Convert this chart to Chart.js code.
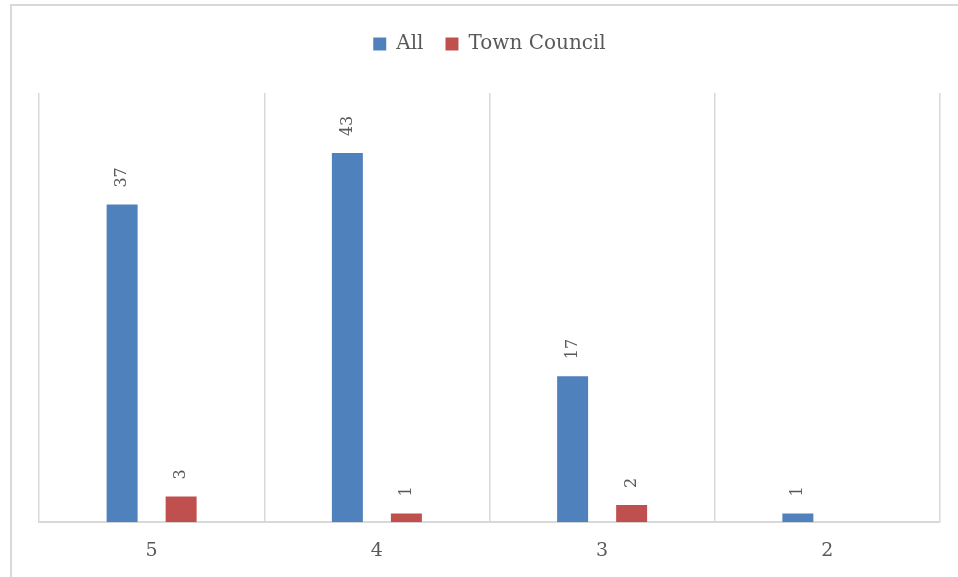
<!DOCTYPE html>
<html>
<head>
<meta charset="utf-8">
<script src="https://cdn.jsdelivr.net/npm/chart.js@4/dist/chart.umd.min.js"></script>
<style>
  html, body { margin: 0; padding: 0; background: #ffffff; }
  #wrap { position: relative; width: 958px; height: 577px; overflow: hidden; }
  #frame { position: absolute; left: 10px; top: 4px; width: 980px; height: 620px; border: 2px solid #d9d9d9; box-sizing: border-box; }
  #chart { position: absolute; left: 0; top: 0; }
</style>
</head>
<body>
<div id="wrap">
  <div id="frame"></div>
  <canvas id="chart" width="958" height="577"></canvas>
</div>
<script>
const categories = ['5', '4', '3', '2'];
const allValues = [37, 43, 17, 1];
const councilValues = [3, 1, 2, null];
const seriesNames = ['All', 'Town Council'];

const textColor = '#595959';
const fontFamily = '"DejaVu Serif", "Liberation Serif", serif';

// draws the rotated value labels above each bar
const barLabels = {
    id: 'barLabels',
    afterDatasetsDraw(chart) {
        const ctx = chart.ctx;
        chart.data.datasets.forEach((ds, i) => {
            const meta = chart.getDatasetMeta(i);
            meta.data.forEach((bar, j) => {
                const v = ds.data[j];
                if (v === null || v === undefined) return;
                ctx.save();
                ctx.translate(bar.x, bar.y - 17);
                ctx.rotate(-Math.PI / 2);
                ctx.font = '16px ' + fontFamily;
                ctx.fillStyle = textColor;
                ctx.textAlign = 'left';
                ctx.textBaseline = 'middle';
                ctx.fillText(String(v), 0, 0);
                ctx.restore();
            });
        });
    }
};

// extra space below the legend
const legendGap = {
    id: 'legendGap',
    beforeInit(chart) {
        const fit = chart.legend.fit;
        chart.legend.fit = function() {
            fit.bind(chart.legend)();
            this.height += 29;
        };
    }
};

new Chart(document.getElementById('chart'), {
    type: 'bar',
    data: {
        labels: categories,
        datasets: [
            {
                label: seriesNames[0],
                data: allValues,
                backgroundColor: '#4F81BD',
                barPercentage: 0.525,
                categoryPercentage: 0.524
            },
            {
                label: seriesNames[1],
                data: councilValues,
                backgroundColor: '#C0504D',
                barPercentage: 0.525,
                categoryPercentage: 0.524
            }
        ]
    },
    options: {
        responsive: false,
        animation: false,
        layout: {
            padding: { left: 39, right: 18, top: 12, bottom: -2 }
        },
        plugins: {
            legend: {
                position: 'top',
                labels: {
                    boxWidth: 13,
                    boxHeight: 13,
                    color: textColor,
                    font: { family: fontFamily, size: 20 },
                    padding: 22
                }
            },
            tooltip: { enabled: false }
        },
        scales: {
            x: {
                grid: {
                    offset: true,
                    color: '#d9d9d9',
                    lineWidth: 1.5,
                    drawTicks: false
                },
                border: { color: '#d9d9d9', width: 2 },
                ticks: {
                    color: textColor,
                    font: { family: fontFamily, size: 19 },
                    padding: 17
                }
            },
            y: {
                display: false,
                min: 0,
                max: 50
            }
        }
    },
    plugins: [barLabels, legendGap]
});
</script>
</body>
</html>
